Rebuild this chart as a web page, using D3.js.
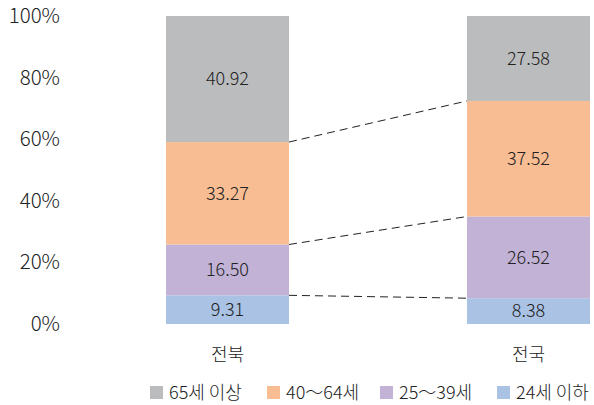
<!DOCTYPE html>
<html><head><meta charset="utf-8">
<script src="https://cdn.jsdelivr.net/npm/d3@7"></script>
<style>
body{margin:0;background:#fff;}
svg{display:block;font-family:"Noto Sans CJK KR","Noto Sans",sans-serif;}
</style></head>
<body><svg id="c" width="594" height="405"></svg>
<script>
const categories = ["전북", "전국"];
const seriesNames = ["24세 이하", "25～39세", "40～64세", "65세 이상"];
const v24 = [9.31, 8.38];
const v25 = [16.50, 26.52];
const v40 = [33.27, 37.52];
const v65 = [40.92, 27.58];
const colors = ["#aac3e5", "#c1b2d6", "#f9bd93", "#bbbcbe"];
const yTicks = [0, 20, 40, 60, 80, 100];
const legendOrder = ["65세 이상", "40～64세", "25～39세", "24세 이하"];

const seriesVals = [v24, v25, v40, v65];
const rows = categories.map((c, i) => {
  const r = {cat: c};
  seriesNames.forEach((s, k) => r[s] = seriesVals[k][i]);
  return r;
});
const stack = d3.stack().keys(seriesNames)(rows);

const svg = d3.select("#c");
const bw = 123;
const xPos = d3.scalePoint().domain(categories).range([227.5, 528.5]);
const y = d3.scaleLinear().domain([0, 100]).range([324, 16]);

// y axis labels
const ax = svg.append("g").attr("transform", "translate(60,0)")
  .call(d3.axisLeft(y).tickValues(yTicks).tickFormat(d => d + "%").tickSize(0).tickPadding(0));
ax.select(".domain").remove();
ax.selectAll("text").attr("font-size", 20.5).attr("font-weight", 300).attr("fill", "#222")
  .attr("font-family", '"Noto Sans CJK KR","Noto Sans",sans-serif');

// bars
stack.forEach((layer, k) => {
  svg.append("g").selectAll("rect").data(layer).join("rect")
    .attr("x", d => xPos(d.data.cat) - bw / 2)
    .attr("width", bw)
    .attr("y", d => y(d[1]))
    .attr("height", d => y(d[0]) - y(d[1]))
    .attr("fill", colors[k]);
  svg.append("g").selectAll("text").data(layer).join("text")
    .attr("x", d => xPos(d.data.cat))
    .attr("y", d => (y(d[0]) + y(d[1])) / 2)
    .attr("dy", "0.35em")
    .attr("text-anchor", "middle")
    .attr("font-size", 18).attr("font-weight", 300).attr("fill", "#222")
    .text(d => (d[1] - d[0]).toFixed(2));
});

// dashed connectors
for (let k = 0; k < 3; k++) {
  const layer = stack[k];
  svg.append("line")
    .attr("x1", xPos(categories[0]) + bw / 2)
    .attr("y1", y(layer[0][1]))
    .attr("x2", xPos(categories[1]) - bw / 2)
    .attr("y2", y(layer[1][1]))
    .attr("stroke", "#222").attr("stroke-width", 1)
    .attr("stroke-dasharray", "8,5");
}

// category labels
svg.append("g").selectAll("text").data(categories).join("text")
  .attr("x", d => xPos(d)).attr("y", 355).attr("dy", "0.35em")
  .attr("text-anchor", "middle").attr("font-size", 18).attr("font-weight", 300).attr("fill", "#222")
  .text(d => d);

// legend
const legX = [150, 267, 380, 497];
const lg = svg.append("g");
legendOrder.forEach((name, i) => {
  const k = seriesNames.indexOf(name);
  lg.append("rect").attr("x", legX[i]).attr("y", 386).attr("width", 13).attr("height", 13).attr("fill", colors[k]);
  lg.append("text").attr("x", legX[i] + 19).attr("y", 393).attr("dy", "0.35em")
    .attr("font-size", 18).attr("font-weight", 300).attr("fill", "#222").text(name);
});
</script></body></html>
